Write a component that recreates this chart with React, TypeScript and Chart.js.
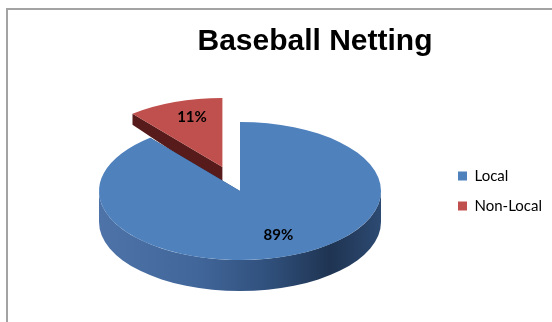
import React, { useEffect, useRef } from 'react';
import { Chart, registerables } from 'chart.js';

Chart.register(...registerables);

// ---- data ----
const categories: string[] = ['Local', 'Non-Local'];
const shares: number[] = [89, 11];
const chartTitle = 'Baseball Netting';

// ---- styles ----
const topColors = ['#4F81BD', '#C0504D'];
const cutColors = ['#2b4a73', '#561b1a'];
const wallStops: [number, string][][] = [
  [[0, '#4d73a8'], [0.35, '#41669a'], [0.6, '#30507c'], [0.82, '#1f3452'], [1, '#2d4a72']],
  [[0, '#8a3331'], [0.5, '#6e2725'], [1, '#4a1716']],
];
const explode = [0, 52];
const TILT = 0.49;
const DEPTH = 31;
const LABEL_FRAC = 0.72;
const RADIUS = 141;

function sliceGeom(arc: any, i: number) {
  const p = arc.getProps(['x', 'y', 'startAngle', 'endAngle', 'outerRadius'], true);
  const mid = (p.startAngle + p.endAngle) / 2;
  const ex = Math.cos(mid) * explode[i];
  const ey = Math.sin(mid) * explode[i] * TILT;
  return { ...p, mid, ex, ey, cx: p.x + ex, cy: p.y + ey, r: p.outerRadius };
}

// simple perspective: side faces further back look shallower
function depthAt(y: number, cy0: number, r: number) {
  const front = cy0 + r * TILT;
  const back = cy0 - r * TILT;
  const f = Math.min(1, Math.max(0, (y - back) / (front - back)));
  return DEPTH * (0.35 + 0.65 * f);
}

const pie3d = {
  id: 'pie3d',
  beforeDatasetsDraw(chart: any) {
    const meta = chart.getDatasetMeta(0);
    const ctx: CanvasRenderingContext2D = chart.ctx;
    const geoms = meta.data.map((a: any, i: number) => sliceGeom(a, i));
    const order = geoms.map((_: any, i: number) => i).sort(
      (a: number, b: number) => Math.sin(geoms[a].mid) - Math.sin(geoms[b].mid)
    );
    for (const i of order) {
      const g = geoms[i];
      const arc = meta.data[i];
      const pt = (t: number) => [g.cx + g.r * Math.cos(t), g.cy + g.r * TILT * Math.sin(t)];
      ctx.save();
      // radial cut faces
      ctx.fillStyle = cutColors[i];
      for (const t of [g.startAngle, g.endAngle]) {
        const [px, py] = pt(t);
        const dp = depthAt(py, g.y, g.r);
        const dc = depthAt(g.cy, g.y, g.r);
        ctx.beginPath();
        ctx.moveTo(g.cx, g.cy);
        ctx.lineTo(px, py);
        ctx.lineTo(px, py + dp);
        ctx.lineTo(g.cx, g.cy + dc);
        ctx.closePath();
        ctx.fill();
      }
      // outer wall (front half only)
      const grad = ctx.createLinearGradient(g.cx - g.r, 0, g.cx + g.r, 0);
      for (const [o, c] of wallStops[i]) grad.addColorStop(o, c);
      ctx.fillStyle = grad;
      for (let k = -1; k <= 1; k++) {
        const lo = Math.max(g.startAngle, 2 * Math.PI * k);
        const hi = Math.min(g.endAngle, 2 * Math.PI * k + Math.PI);
        if (hi > lo) {
          ctx.beginPath();
          ctx.ellipse(g.cx, g.cy, g.r, g.r * TILT, 0, lo, hi, false);
          ctx.ellipse(g.cx, g.cy + DEPTH, g.r, g.r * TILT, 0, hi, lo, true);
          ctx.closePath();
          ctx.fill();
        }
      }
      // top face drawn by the library's arc element, projected
      ctx.translate(g.ex, g.ey);
      ctx.translate(0, g.y);
      ctx.scale(1, TILT);
      ctx.translate(0, -g.y);
      arc.draw(ctx);
      ctx.restore();
    }
    return false;
  },
  afterDraw(chart: any) {
    const meta = chart.getDatasetMeta(0);
    const ctx: CanvasRenderingContext2D = chart.ctx;
    const total = shares.reduce((a, b) => a + b, 0);
    ctx.save();
    ctx.fillStyle = '#000';
    ctx.textAlign = 'center';
    ctx.textBaseline = 'middle';
    ctx.font = 'bold 15px Lato';
    meta.data.forEach((arc: any, i: number) => {
      const g = sliceGeom(arc, i);
      const lx = g.cx + Math.cos(g.mid) * g.r * LABEL_FRAC;
      const ly = g.cy + Math.sin(g.mid) * g.r * TILT * LABEL_FRAC;
      ctx.fillText(Math.round((shares[i] / total) * 100) + '%', lx + 4, ly - 3);
    });
    ctx.font = 'bold 30px "Liberation Sans"';
    ctx.textBaseline = 'alphabetic';
    ctx.fillText(chartTitle, 315, 50);
    ctx.restore();
  },
};

export default function App() {
  const ref = useRef<HTMLCanvasElement>(null);
  useEffect(() => {
    if (!ref.current) return;
    const chart = new Chart(ref.current, {
      type: 'pie',
      data: {
        labels: categories,
        datasets: [
          {
            data: shares,
            backgroundColor: topColors,
            borderWidth: 0,
            offset: 0,
            radius: RADIUS,
          } as any,
        ],
      },
      options: {
        animation: false,
        responsive: false,
        devicePixelRatio: 1,
        layout: { padding: { left: 37, right: 0, top: 70, bottom: 10 } },
        plugins: {
          title: { display: false },
          tooltip: { enabled: false },
          legend: {
            position: 'right',
            align: 'center',
            labels: {
              boxWidth: 9,
              boxHeight: 9,
              padding: 15,
              color: '#000',
              font: { family: 'Lato', size: 15 },
            },
          },
        },
      },
      plugins: [pie3d],
    });
    return () => chart.destroy();
  }, []);
  return (
    <div style={{ position: 'absolute', left: 0, top: 0, width: 552, height: 322, background: '#fff' }}>
      <div
        style={{
          position: 'absolute',
          left: 6,
          top: 8,
          width: 546,
          height: 314,
          borderLeft: '2px solid #a3a3a3',
          borderTop: '2px solid #a3a3a3',
          boxSizing: 'border-box',
        }}
      />
      <canvas ref={ref} width={552} height={322} style={{ position: 'absolute', left: 0, top: 0, display: 'block' }} />
    </div>
  );
}
